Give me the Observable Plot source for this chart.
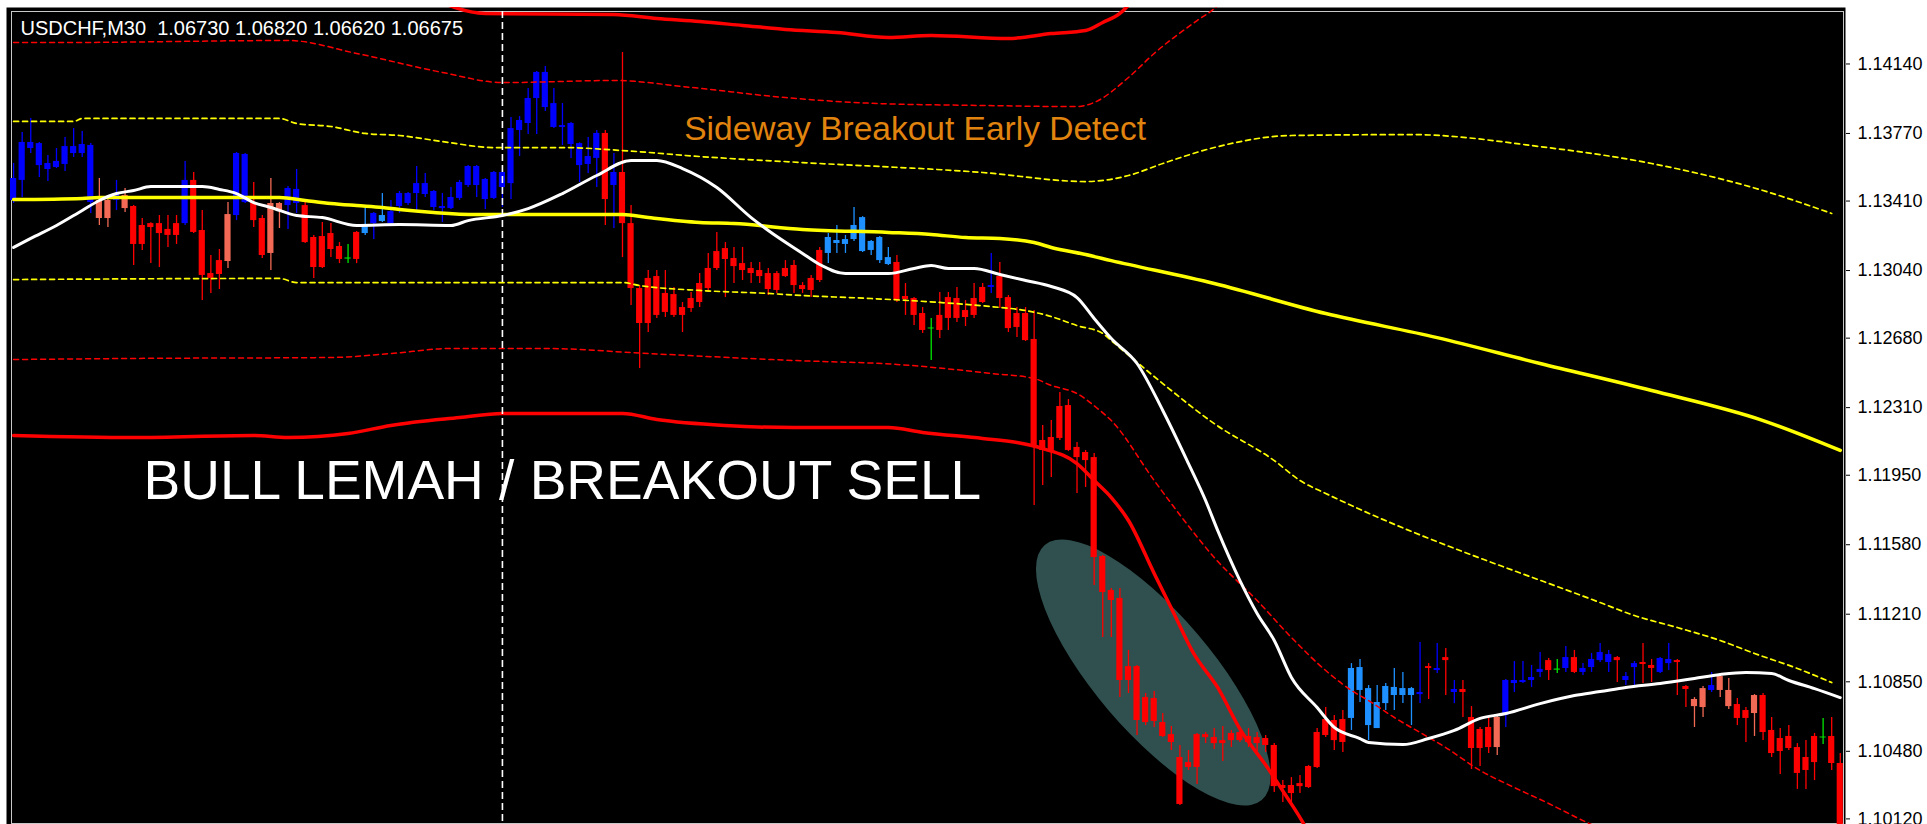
<!DOCTYPE html>
<html>
<head>
<meta charset="utf-8">
<script src="https://cdn.jsdelivr.net/npm/d3@7"></script>
<script src="https://cdn.jsdelivr.net/npm/@observablehq/plot@0.6"></script>
<style>
html,body{margin:0;padding:0;background:#ffffff;}
#chart svg{display:block;}
</style>
</head>
<body>
<div id="chart"></div>
<script>
// ---------- DATA ----------
const header = "USDCHF,M30\u00a0 1.06730 1.06820 1.06620 1.06675";
const priceTicks = [1.1414, 1.1377, 1.1341, 1.1304, 1.1268, 1.1231, 1.1195, 1.1158, 1.1121, 1.1085, 1.1048, 1.1012];

// B = blue, D = dodger blue, R = red, S = salmon, G = green doji
const colorCode = ("BBBBBBBBBB" + "SSBSRRRRRR" + "BRRRRSBBRR" + "SSBBRRRRRG" + "RDBDBBBBBB" +
  "BBBBBBBBBB" + "BBBBBBBBBR" + "BRRRRRRRRR" + "RRRRRRRRRR" + "RRRRRDDDDD" +
  "DDDRRRRGRR" + "RRRRBRRRRR" + "RRRRRRRRRR" + "RRRRRRRRRR" + "RRRRRRRRRR" +
  "RRRRRRDDDD" + "DDDDBRBRBR" + "RRRSBBBBBR" + "GBRBBBBRBB" + "RRBBRRSSBS" +
  "SRRSRRRRRR" + "RGRR").split("");

const open = [1.13413,1.13520,1.13690,1.13599,1.13578,1.13589,1.13605,1.13663,1.13663,1.13402,
1.13413,1.13413,1.13413,1.13440,1.13381,1.13280,1.13290,1.13290,1.13259,1.13290,
1.13290,1.13520,1.13253,1.13024,1.13093,1.13338,1.13333,1.13402,1.13402,1.13317,
1.13397,1.13397,1.13386,1.13397,1.13386,1.13216,1.13221,1.13237,1.13168,1.13107,
1.13243,1.13237,1.13290,1.13301,1.13290,1.13381,1.13397,1.13450,1.13445,1.13376,
1.13370,1.13370,1.13424,1.13493,1.13493,1.13418,1.13424,1.13482,1.13503,1.13786,
1.13823,1.13956,1.13908,1.13802,1.13802,1.13711,1.13599,1.13605,1.13637,1.13770,
1.13493,1.13562,1.13290,1.12944,1.12998,1.13008,1.12918,1.12912,1.12843,1.12891,
1.12971,1.13051,1.13141,1.13157,1.13104,1.13077,1.13051,1.13040,1.13024,1.13024,
1.13051,1.13067,1.12960,1.12998,1.13147,1.13131,1.13184,1.13179,1.13205,1.13141,
1.13147,1.13093,1.13072,1.13083,1.12902,1.12891,1.12811,1.12734,1.12801,1.12896,
1.12891,1.12827,1.12891,1.12950,1.12950,1.13008,1.12896,1.12811,1.12811,1.12673,
1.12135,1.12151,1.12316,1.12321,1.12098,1.12071,1.12044,1.11517,1.11336,1.11294,
1.10931,1.10931,1.10766,1.10761,1.10633,1.10569,1.10447,1.10420,1.10569,1.10569,
1.10553,1.10537,1.10575,1.10580,1.10559,1.10553,1.10548,1.10511,1.10298,1.10298,
1.10308,1.10399,1.10580,1.10649,1.10644,1.10649,1.10655,1.10804,1.10617,1.10601,
1.10734,1.10777,1.10777,1.10777,1.10782,1.10931,1.10910,1.10979,1.10793,1.10809,
1.10660,1.10596,1.10607,1.10660,1.10671,1.10841,1.10846,1.10857,1.10900,1.10963,
1.10918,1.10921,1.10979,1.10900,1.10926,1.10963,1.10953,1.10979,1.10857,1.10926,
1.10953,1.10937,1.10900,1.10947,1.10963,1.10825,1.10756,1.10814,1.10804,1.10878,
1.10804,1.10729,1.10697,1.10777,1.10777,1.10591,1.10548,1.10559,1.10500,1.10447,
1.10559,1.10556,1.10559,1.10415];

const high = [1.13610,1.13775,1.13850,1.13722,1.13653,1.13690,1.13748,1.13796,1.13780,1.13716,
1.13530,1.13424,1.13520,1.13477,1.13386,1.13317,1.13295,1.13333,1.13333,1.13333,
1.13621,1.13562,1.13360,1.13120,1.13152,1.13402,1.13669,1.13663,1.13509,1.13333,
1.13530,1.13402,1.13487,1.13578,1.13413,1.13227,1.13296,1.13290,1.13189,1.13179,
1.13248,1.13376,1.13349,1.13450,1.13413,1.13461,1.13456,1.13594,1.13557,1.13466,
1.13450,1.13482,1.13520,1.13599,1.13599,1.13530,1.13567,1.13573,1.13855,1.13860,
1.14009,1.14100,1.14126,1.14009,1.13929,1.13828,1.13720,1.13748,1.13786,1.13786,
1.13663,1.14201,1.13386,1.12960,1.13040,1.13040,1.13040,1.12950,1.12870,1.12923,
1.13024,1.13131,1.13243,1.13189,1.13163,1.13163,1.13083,1.13083,1.13051,1.13035,
1.13093,1.13093,1.12976,1.13014,1.13163,1.13237,1.13280,1.13227,1.13376,1.13327,
1.13200,1.13221,1.13163,1.13120,1.12971,1.12896,1.12843,1.12785,1.12923,1.12923,
1.12950,1.12880,1.12971,1.12971,1.13131,1.13083,1.12907,1.12843,1.12843,1.12827,
1.12215,1.12241,1.12391,1.12353,1.12124,1.12082,1.12066,1.11522,1.11347,1.11347,
1.11017,1.10937,1.10788,1.10798,1.10681,1.10612,1.10511,1.10484,1.10575,1.10580,
1.10601,1.10612,1.10591,1.10601,1.10601,1.10580,1.10564,1.10521,1.10324,1.10340,
1.10351,1.10404,1.10601,1.10713,1.10671,1.10697,1.10947,1.10969,1.10830,1.10830,
1.10841,1.10921,1.10900,1.10820,1.11059,1.10947,1.11054,1.11027,1.10857,1.10857,
1.10718,1.10607,1.10660,1.10671,1.10862,1.10958,1.10958,1.10937,1.11006,1.10974,
1.10969,1.11038,1.11017,1.10947,1.11001,1.11054,1.11017,1.10985,1.10900,1.10958,
1.11054,1.10969,1.10979,1.11054,1.10969,1.10830,1.10766,1.10825,1.10900,1.10884,
1.10868,1.10761,1.10713,1.10782,1.10788,1.10660,1.10601,1.10617,1.10521,1.10537,
1.10575,1.10655,1.10660,1.10468];

const low = [1.13397,1.13429,1.13663,1.13535,1.13514,1.13583,1.13567,1.13642,1.13642,1.13344,
1.13280,1.13269,1.13360,1.13349,1.13067,1.13147,1.13077,1.13056,1.13163,1.13179,
1.13280,1.13237,1.12880,1.12918,1.12939,1.13051,1.13306,1.13397,1.13269,1.13104,
1.13040,1.13264,1.13259,1.13344,1.13184,1.12998,1.13051,1.13109,1.13077,1.13077,
1.13077,1.13227,1.13205,1.13296,1.13280,1.13344,1.13386,1.13360,1.13429,1.13360,
1.13296,1.13365,1.13413,1.13482,1.13429,1.13365,1.13418,1.13376,1.13418,1.13647,
1.13764,1.13764,1.13887,1.13796,1.13706,1.13637,1.13509,1.13557,1.13482,1.13280,
1.13264,1.13109,1.12854,1.12518,1.12710,1.12785,1.12790,1.12790,1.12710,1.12817,
1.12843,1.12923,1.13040,1.12896,1.12971,1.12987,1.12971,1.12971,1.12907,1.12918,
1.13003,1.12918,1.12918,1.12896,1.12976,1.13077,1.13131,1.13131,1.13195,1.13136,
1.13120,1.13077,1.13067,1.12870,1.12801,1.12747,1.12705,1.12561,1.12678,1.12721,
1.12763,1.12742,1.12785,1.12864,1.12918,1.12838,1.12710,1.12683,1.12662,1.11789,
1.11895,1.11938,1.12135,1.12076,1.11853,1.11885,1.11363,1.11086,1.11086,1.10766,
1.10788,1.10564,1.10617,1.10607,1.10553,1.10484,1.10192,1.10378,1.10303,1.10521,
1.10490,1.10426,1.10500,1.10527,1.10500,1.10479,1.10474,1.10261,1.10207,1.10207,
1.10255,1.10282,1.10388,1.10553,1.10484,1.10474,1.10591,1.10740,1.10537,1.10601,
1.10697,1.10697,1.10734,1.10617,1.10734,1.10756,1.10894,1.10777,1.10734,1.10660,
1.10383,1.10399,1.10468,1.10458,1.10607,1.10793,1.10841,1.10820,1.10873,1.10857,
1.10894,1.10900,1.10894,1.10884,1.10900,1.10953,1.10900,1.10846,1.10830,1.10830,
1.10841,1.10846,1.10894,1.10910,1.10777,1.10713,1.10607,1.10660,1.10793,1.10766,
1.10703,1.10617,1.10527,1.10559,1.10537,1.10447,1.10356,1.10484,1.10277,1.10277,
1.10324,1.10516,1.10378,1.10058];

const close = [1.13530,1.13722,1.13722,1.13716,1.13610,1.13621,1.13700,1.13700,1.13711,1.13706,
1.13317,1.13317,1.13450,1.13370,1.13179,1.13179,1.13269,1.13237,1.13227,1.13227,
1.13520,1.13243,1.13014,1.12998,1.13019,1.13088,1.13663,1.13658,1.13306,1.13120,
1.13131,1.13360,1.13477,1.13472,1.13189,1.13056,1.13056,1.13152,1.13099,1.13101,
1.13099,1.13274,1.13344,1.13333,1.13354,1.13450,1.13450,1.13503,1.13503,1.13461,
1.13381,1.13429,1.13509,1.13594,1.13594,1.13525,1.13562,1.13562,1.13796,1.13839,
1.13956,1.14095,1.14095,1.13929,1.13812,1.13823,1.13716,1.13647,1.13770,1.13418,
1.13562,1.13290,1.12944,1.12758,1.12758,1.12801,1.12817,1.12801,1.12801,1.12838,
1.12870,1.12944,1.13051,1.13099,1.13061,1.13040,1.13024,1.13008,1.12939,1.12934,
1.13008,1.12960,1.12939,1.12934,1.12987,1.13216,1.13200,1.13205,1.13280,1.13322,
1.13195,1.13216,1.13109,1.12880,1.12886,1.12801,1.12721,1.12729,1.12721,1.12785,
1.12785,1.12790,1.12801,1.12870,1.12960,1.12891,1.12731,1.12737,1.12667,1.12098,
1.12082,1.12082,1.12146,1.12082,1.12044,1.12028,1.11512,1.11326,1.11283,1.10857,
1.10857,1.10644,1.10633,1.10639,1.10559,1.10527,1.10197,1.10394,1.10394,1.10553,
1.10521,1.10521,1.10537,1.10537,1.10527,1.10521,1.10511,1.10292,1.10282,1.10255,
1.10292,1.10287,1.10394,1.10564,1.10537,1.10527,1.10921,1.10926,1.10814,1.10740,
1.10825,1.10820,1.10814,1.10814,1.10793,1.10921,1.10921,1.10963,1.10809,1.10793,
1.10495,1.10495,1.10500,1.10500,1.10857,1.10857,1.10857,1.10873,1.10916,1.10910,
1.10912,1.10979,1.10900,1.10921,1.10969,1.11006,1.10995,1.10963,1.10878,1.10947,
1.10942,1.10921,1.10974,1.10969,1.10953,1.10809,1.10718,1.10713,1.10830,1.10804,
1.10718,1.10655,1.10655,1.10681,1.10580,1.10468,1.10479,1.10495,1.10362,1.10378,
1.10420,1.10551,1.10415,1.10058];

// indicator lines: [bar index, price]
const whiteMA = [[0,1.13163],[2,1.13211],[5,1.13280],[8,1.13360],[10,1.13413],[12,1.13450],[14,1.13466],[16,1.13487],[22,1.13487],[24,1.13472],[26,1.13450],[28,1.13402],[30,1.13376],[33,1.13333],[36,1.13322],[40,1.13280],[45,1.13285],[51,1.13280],[53,1.13306],[57,1.13333],[60,1.13370],[64,1.13450],[68,1.13546],[72,1.13626],[75,1.13626],[78,1.13583],[82,1.13482],[86,1.13322],[88,1.13253],[92,1.13131],[94,1.13072],[97,1.13024],[102,1.13024],[105,1.13051],[107,1.13067],[109,1.13051],[112,1.13051],[115,1.13019],[118,1.12987],[121,1.12955],[124,1.12896],[126,1.12785],[128,1.12678],[131,1.12545],[134,1.12295],[137,1.12012],[139,1.11815],[140.4,1.11656],[143,1.11389],[145,1.11214],[147,1.11070],[149,1.10873],[152,1.10713],[154,1.10607],[157,1.10548],[158,1.10527],[162,1.10516],[165,1.10548],[168,1.10591],[171,1.10655],[174,1.10681],[178,1.10734],[182,1.10777],[185,1.10798],[188,1.10820],[192,1.10841],[196,1.10868],[199,1.10889],[202,1.10900],[205,1.10894],[207,1.10857],[210,1.10814],[213,1.10766]];

const yellowMain = [[0,1.13418],[8,1.13424],[10,1.13429],[31,1.13429],[34,1.13413],[37,1.13397],[40,1.13386],[43,1.13376],[45,1.13365],[49,1.13349],[54,1.13338],[71,1.13338],[74,1.13322],[80,1.13296],[84,1.13290],[92,1.13259],[102,1.13243],[107,1.13232],[111,1.13216],[115,1.13211],[119,1.13189],[121,1.13163],[125,1.13125],[128,1.13093],[140,1.12971],[153,1.12811],[166,1.12683],[178,1.12545],[191,1.12401],[204,1.12241],[213,1.12082]];

const yellowUpper = [[0,1.13834],[7,1.13834],[8,1.13850],[31,1.13850],[33,1.13823],[37,1.13807],[41,1.13770],[45,1.13759],[50,1.13727],[56,1.13695],[64,1.13695],[71,1.13679],[80,1.13647],[92,1.13615],[113,1.13562],[125,1.13514],[130,1.13546],[134,1.13610],[140,1.13695],[149,1.13759],[163,1.13764],[178,1.13700],[191,1.13610],[204,1.13466],[212,1.13344]];

const yellowLower = [[0,1.12992],[31,1.12998],[33,1.12976],[45,1.12976],[71,1.12976],[73,1.12960],[80,1.12934],[88,1.12918],[92,1.12907],[100,1.12891],[108,1.12870],[114,1.12848],[118,1.12827],[121,1.12795],[124,1.12747],[127,1.12705],[128,1.12667],[134,1.12438],[140,1.12225],[147,1.12028],[150,1.11922],[153,1.11853],[156,1.11789],[185,1.11272],[189,1.11203],[194,1.11139],[199,1.11070],[203,1.11001],[208,1.10921],[212,1.10846]];

const redUpper = [[0,1.14254],[5,1.14254],[32,1.14265],[40,1.14196],[50,1.14095],[57,1.14041],[70,1.14052],[79,1.14015],[90,1.13961],[101,1.13929],[113,1.13919],[124,1.13913],[126,1.13935],[130,1.14068],[133,1.14196],[138,1.14371],[140,1.14435],[142,1.14531]];

const redUpperSolid = [[48,1.14505],[55,1.14409],[70,1.14403],[75,1.14382],[80,1.14366],[85,1.14345],[90,1.14324],[96,1.14308],[102,1.14281],[107,1.14292],[116,1.14276],[121,1.14302],[125,1.14318],[127,1.14361],[129,1.14409],[131,1.14505]];

const redLower = [[0,1.12566],[14,1.12572],[37,1.12577],[44,1.12598],[51,1.12625],[62,1.12625],[74,1.12598],[91,1.12561],[103,1.12540],[114,1.12492],[119,1.12465],[121,1.12428],[124,1.12385],[126.4,1.12305],[128,1.12241],[133,1.11922],[136.5,1.11709],[140,1.11512],[145,1.11283],[149,1.11086],[153,1.10910],[156,1.10804],[158,1.10750],[161,1.10660],[164,1.10580],[167,1.10500],[171,1.10378],[175,1.10287],[179,1.10202],[183,1.10111],[186,1.10048]];

const redLowerSolid = [[0,1.12162],[14,1.12151],[28,1.12162],[32,1.12151],[39,1.12172],[44,1.12215],[52,1.12257],[57,1.12279],[71,1.12279],[75,1.12247],[83,1.12215],[91,1.12204],[102,1.12204],[106,1.12178],[113,1.12146],[117,1.12124],[120,1.12092],[124,1.12012],[126,1.11922],[128,1.11831],[130,1.11709],[133,1.11427],[135.3,1.11214],[137.6,1.11001],[140.4,1.10820],[143.1,1.10591],[146.2,1.10394],[148.5,1.10234],[150.4,1.10096],[152,1.09952]];

const sessionMarker = [57];
const zone = {from: [120.3, 1.11576], to: [145.6, 1.10218], ratio: 0.35};
const orangeNote = [{i: 78.2, price: 1.13733, text: "Sideway Breakout Early Detect"}];
const whiteNote = [{i: 15.15, price: 1.11821, text: "BULL LEMAH / BREAKOUT SELL"}];

// ---------- CHART ----------
const palette = {B: "#0000ff", D: "#1e90ff", R: "#ff0000", S: "#f26a55", G: "#00e600"};
const candles = open.map((o, i) => ({i, open: o, high: high[i], low: low[i], close: close[i], code: colorCode[i]}));
const asPts = arr => arr.map(([i, p]) => ({i, p}));
const lineOpts = (stroke, width, dash) => ({x: "i", y: "p", stroke, strokeWidth: width, strokeDasharray: dash, curve: "monotone-x", clip: true});

function zoneMark(index, scales) {
  const sx = scales.x, sy = scales.y;
  const x1 = sx(zone.from[0]), y1 = sy(zone.from[1]);
  const x2 = sx(zone.to[0]), y2 = sy(zone.to[1]);
  const cx = (x1 + x2) / 2, cy = (y1 + y2) / 2;
  const a = Math.hypot(x2 - x1, y2 - y1) / 2;
  const ang = Math.atan2(y2 - y1, x2 - x1) * 180 / Math.PI;
  const g = d3.create("svg:g");
  g.append("ellipse")
    .attr("cx", cx).attr("cy", cy)
    .attr("rx", a).attr("ry", a * zone.ratio)
    .attr("transform", `rotate(${ang} ${cx} ${cy})`)
    .attr("fill", "#2f504e");
  return g.node();
}

const chart = Plot.plot({
  width: 1927,
  height: 824,
  marginLeft: 6,
  marginRight: 82,
  marginTop: 7,
  marginBottom: 0,
  style: {background: "#ffffff", fontFamily: "'Liberation Sans', Arial, sans-serif"},
  x: {domain: [-0.828, 213.61], axis: null},
  y: {domain: [1.100902, 1.144407], axis: null},
  color: {type: "identity"},
  marks: [
    Plot.frame({fill: "#000000"}),
    Plot.frame({stroke: "#c8c8c8", strokeWidth: 1, insetLeft: 5, insetTop: 4, insetRight: 2, insetBottom: 1}),
    zoneMark,
    Plot.ruleX(candles, {x: "i", y1: "low", y2: "high", stroke: d => palette[d.code], strokeWidth: 1.3}),
    Plot.rect(candles, {x1: d => d.i - 0.36, x2: d => d.i + 0.36, y1: "open", y2: "close", fill: d => palette[d.code]}),
    Plot.line(asPts(yellowUpper), lineOpts("#ffff00", 1.7, "5,4")),
    Plot.line(asPts(yellowLower), lineOpts("#ffff00", 1.7, "5,4")),
    Plot.line(asPts(redUpper), lineOpts("#ff0000", 1.5, "5,4")),
    Plot.line(asPts(redLower), lineOpts("#ff0000", 1.5, "5,4")),
    Plot.line(asPts(yellowMain), lineOpts("#ffff00", 3.5)),
    Plot.line(asPts(redUpperSolid), lineOpts("#ff0000", 3.5)),
    Plot.line(asPts(redLowerSolid), lineOpts("#ff0000", 3.5)),
    Plot.line(asPts(whiteMA), lineOpts("#ffffff", 3)),
    Plot.ruleX(sessionMarker, {stroke: "#ffffff", strokeWidth: 1.6, strokeDasharray: "7,4", insetTop: 4}),
    Plot.text([header], {frameAnchor: "top-left", dx: 14, dy: 21, text: d => d, fill: "#ffffff", fontSize: 20, textAnchor: "start", lineAnchor: "middle"}),
    Plot.text(orangeNote, {x: "i", y: "price", text: "text", fill: "#e0840f", fontSize: 33.5, textAnchor: "start", lineAnchor: "bottom"}),
    Plot.text(whiteNote, {x: "i", y: "price", text: "text", fill: "#ffffff", fontSize: 55, textAnchor: "start", lineAnchor: "bottom"}),
    Plot.axisY({anchor: "right", ticks: priceTicks, tickFormat: d => d.toFixed(5), tickSize: 4, tickPadding: 8, fontSize: 18, fill: "#000000", stroke: "#000000", label: null})
  ]
});
document.getElementById("chart").appendChild(chart);
</script>
</body>
</html>
